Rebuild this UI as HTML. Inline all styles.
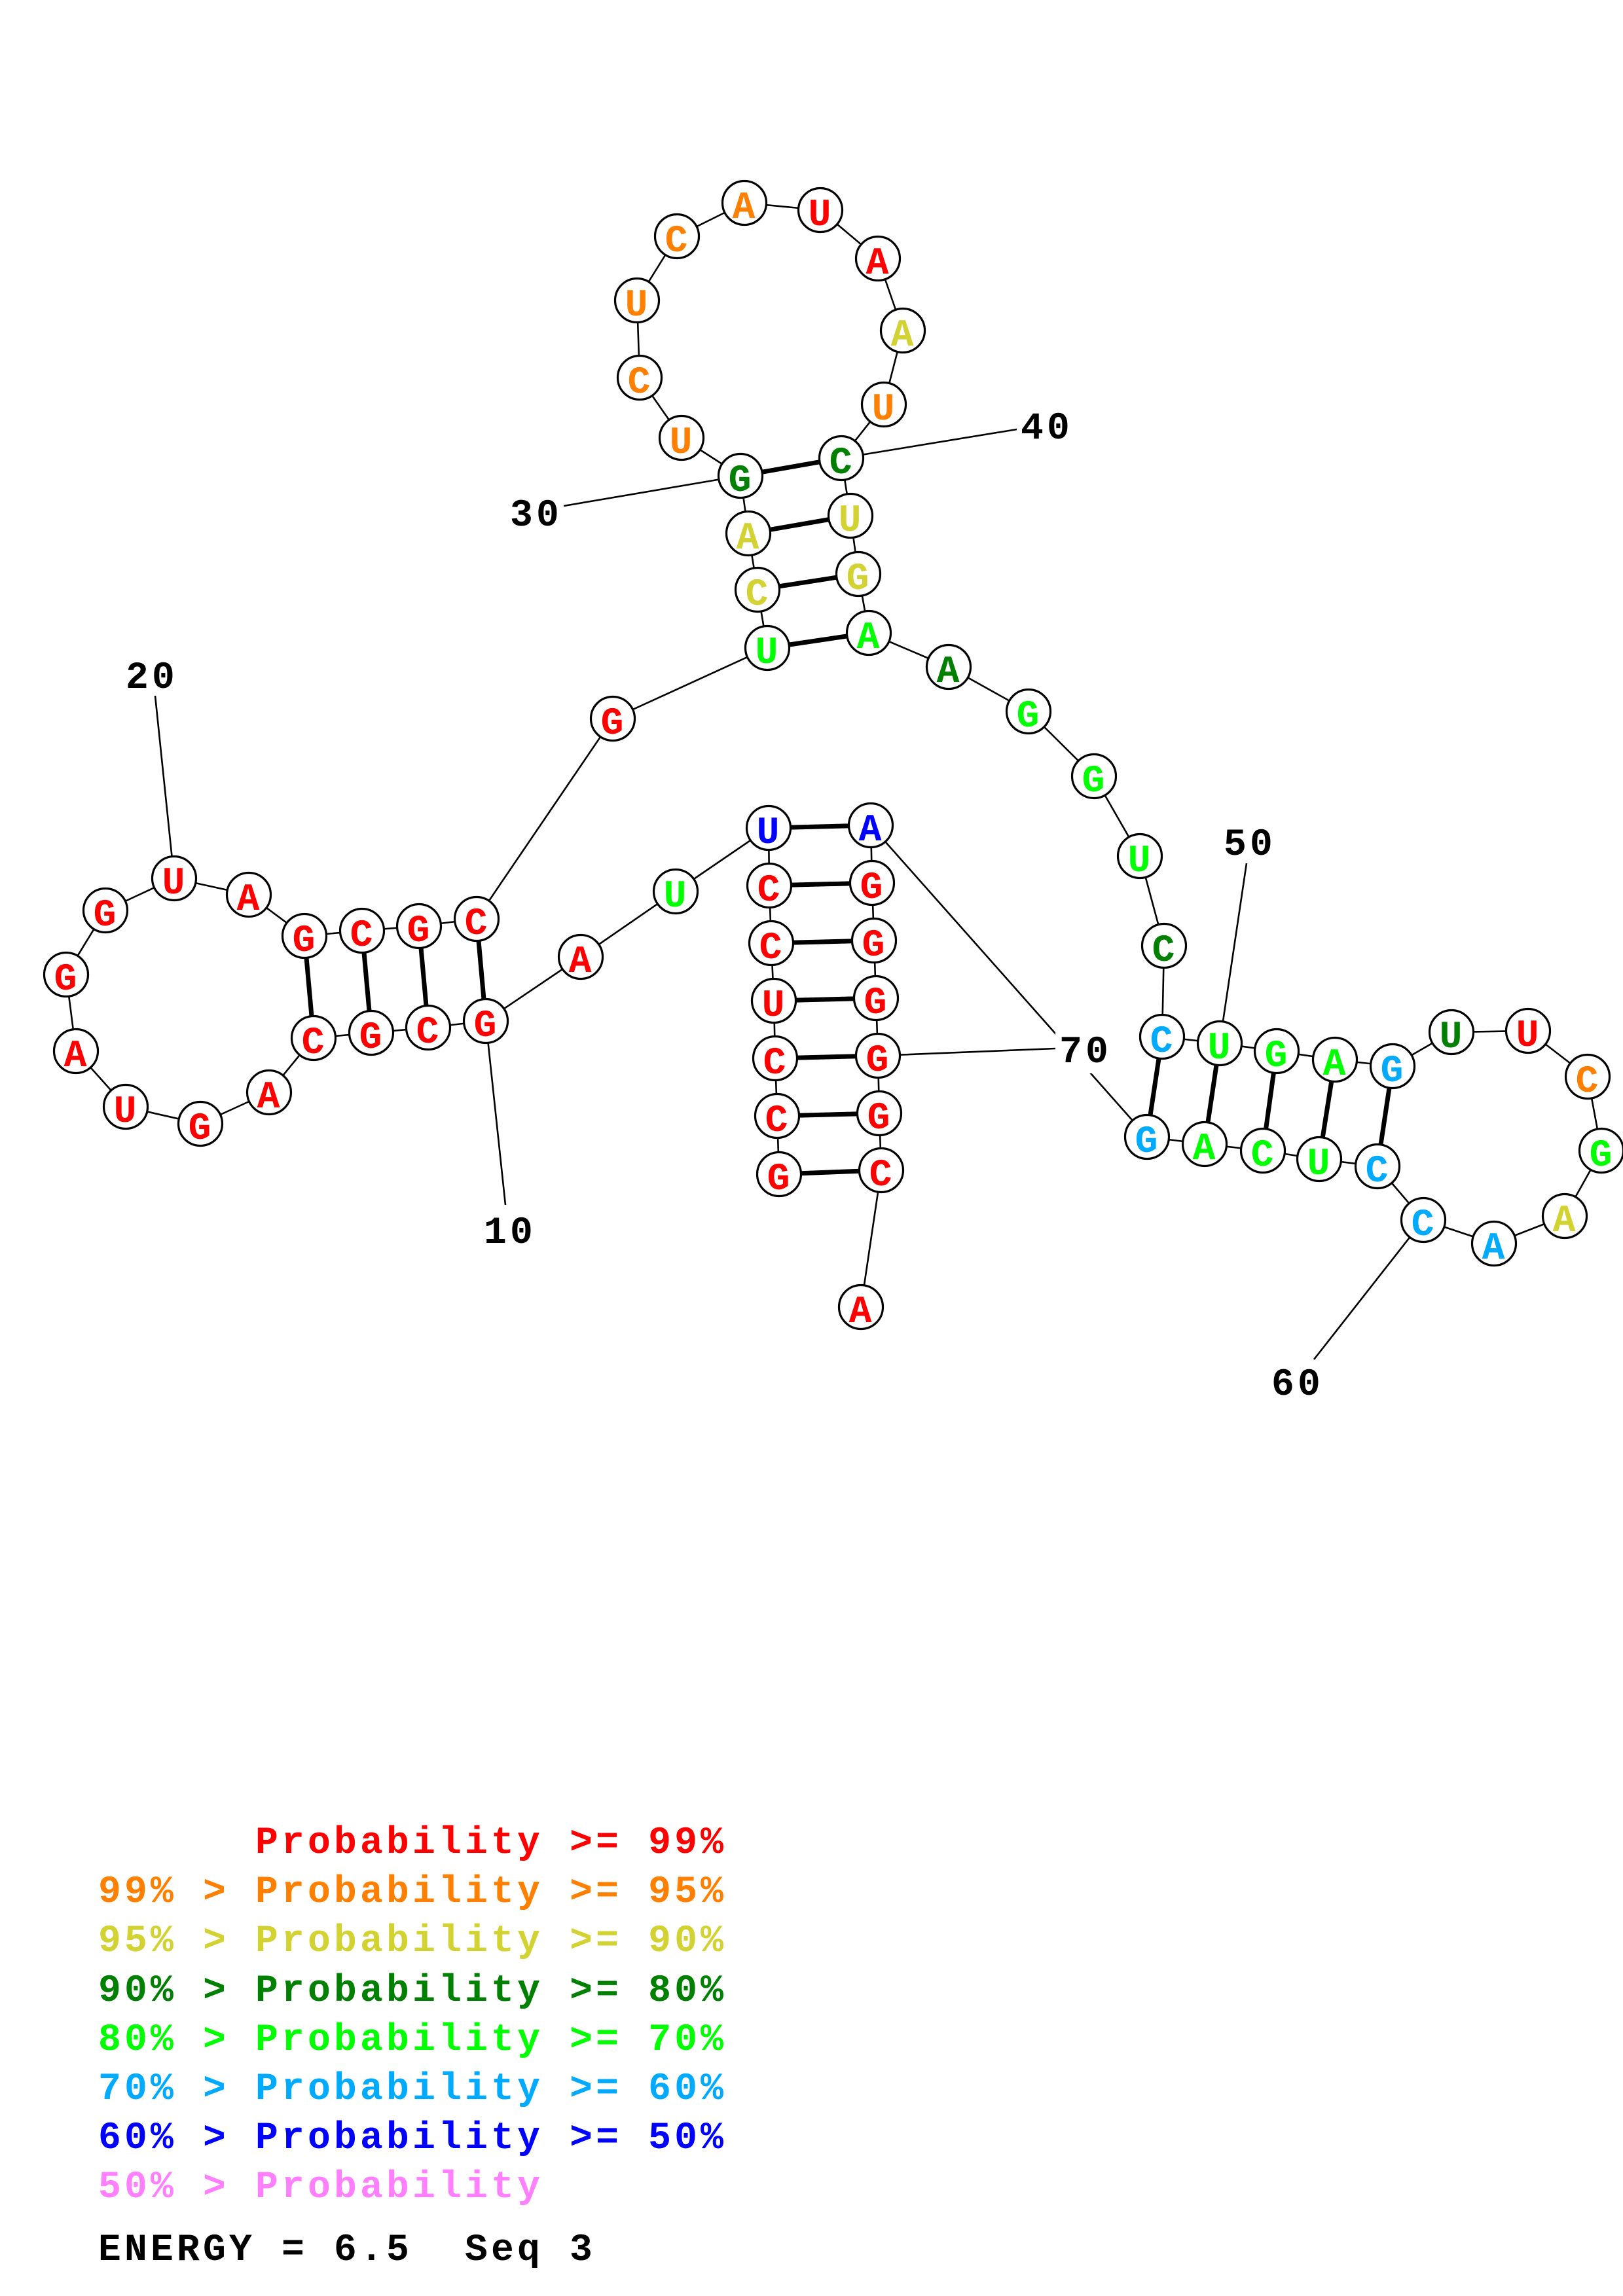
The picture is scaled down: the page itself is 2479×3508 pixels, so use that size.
<!DOCTYPE html>
<html>
<head>
<meta charset="utf-8">
<style>
  html, body { margin:0; padding:0; background:#ffffff; }
  body { width:2479px; height:3508px; overflow:hidden; }
  svg { display:block; }
  .nt { font-family:"Liberation Mono", "DejaVu Sans Mono", monospace; font-weight:bold; font-size:58px; text-anchor:middle; }
  .lbl { font-family:"Liberation Mono", "DejaVu Sans Mono", monospace; font-weight:bold; font-size:58px; letter-spacing:5.2px; text-anchor:middle; fill:#000; }
  .leg { font-family:"Liberation Mono", "DejaVu Sans Mono", monospace; font-weight:bold; font-size:58px; letter-spacing:5.2px; }
</style>
</head>
<body>
<svg width="2479" height="3508" viewBox="0 0 2479 3508" xmlns="http://www.w3.org/2000/svg">
  <rect x="0" y="0" width="2479" height="3508" fill="#ffffff"/>

  <!-- backbone -->
  <polyline fill="none" stroke="#000" stroke-width="2.6" stroke-linejoin="round" points="
    1190,1794 1187,1705 1184,1617 1182,1529 1178,1441 1175,1353 1174,1265 1032,1362 887,1462 742,1560
    654,1570 567,1578 479,1586 411,1669 306,1717 192,1691 116,1606 101,1489 161,1391 266,1342
    380,1367 465,1430 553,1422 640,1415 728,1404 936,1098 1172,990 1157,901 1143,815 1131,727
    1041,669 977,577 973,459 1034,361 1137,310 1253,321 1341,395 1379,505 1350,618 1285,700
    1299,788 1311,877 1327,967 1449,1019 1571,1087 1671,1186 1741,1308 1778,1445 1775,1584 1863,1594
    1950,1606 2039,1619 2127,1629 2217,1577 2334,1575 2425,1645 2446,1758 2390,1858 2282,1900 2174,1864
    2104,1782 2015,1771 1929,1758 1840,1748 1752,1737 1330,1261 1332,1349 1335,1437 1338,1525 1341,1613
    1343,1701 1346,1788 1315,1997"/>

  <!-- base pairs -->
  <g stroke="#000" stroke-width="7" stroke-linecap="butt">
    <line x1="1190" y1="1794" x2="1346" y2="1788"/>
    <line x1="1187" y1="1705" x2="1343" y2="1701"/>
    <line x1="1184" y1="1617" x2="1341" y2="1613"/>
    <line x1="1182" y1="1529" x2="1338" y2="1525"/>
    <line x1="1178" y1="1441" x2="1335" y2="1437"/>
    <line x1="1175" y1="1353" x2="1332" y2="1349"/>
    <line x1="1174" y1="1265" x2="1330" y2="1261"/>

    <line x1="742" y1="1560" x2="728" y2="1404"/>
    <line x1="654" y1="1570" x2="640" y2="1415"/>
    <line x1="567" y1="1578" x2="553" y2="1422"/>
    <line x1="479" y1="1586" x2="465" y2="1430"/>

    <line x1="1172" y1="990" x2="1327" y2="967"/>
    <line x1="1157" y1="901" x2="1311" y2="877"/>
    <line x1="1143" y1="815" x2="1299" y2="788"/>
    <line x1="1131" y1="727" x2="1285" y2="700"/>

    <line x1="1775" y1="1584" x2="1752" y2="1737"/>
    <line x1="1863" y1="1594" x2="1840" y2="1748"/>
    <line x1="1950" y1="1606" x2="1929" y2="1758"/>
    <line x1="2039" y1="1619" x2="2015" y2="1771"/>
    <line x1="2127" y1="1629" x2="2104" y2="1782"/>
  </g>

  <!-- label background for 70 (interrupts the long backbone line) -->
  <rect x="1612" y="1572" width="90" height="68" fill="#ffffff"/>

  <!-- label lines -->
  <g stroke="#000" stroke-width="2.6">
    <line x1="742" y1="1560" x2="772" y2="1841"/>
    <line x1="266" y1="1342" x2="237" y2="1063"/>
    <line x1="1131" y1="727" x2="861" y2="773"/>
    <line x1="1285" y1="700" x2="1553" y2="656"/>
    <line x1="1863" y1="1594" x2="1904" y2="1319"/>
    <line x1="2174" y1="1864" x2="2007" y2="2077"/>
    <line x1="1341" y1="1613" x2="1612" y2="1602"/>
  </g>

  <!-- labels -->
  <text class="lbl" x="779" y="1899">10</text>
  <text class="lbl" x="232" y="1051">20</text>
  <text class="lbl" x="819" y="803">30</text>
  <text class="lbl" x="1599" y="670">40</text>
  <text class="lbl" x="1909" y="1306">50</text>
  <text class="lbl" x="1982" y="2131">60</text>
  <text class="lbl" x="1658" y="1623">70</text>

  <!-- nucleotide circles -->
  <g fill="#ffffff" stroke="#000" stroke-width="3.2">
    <circle cx="1190" cy="1794" r="33.5"/>
    <circle cx="1187" cy="1705" r="33.5"/>
    <circle cx="1184" cy="1617" r="33.5"/>
    <circle cx="1182" cy="1529" r="33.5"/>
    <circle cx="1178" cy="1441" r="33.5"/>
    <circle cx="1175" cy="1353" r="33.5"/>
    <circle cx="1174" cy="1265" r="33.5"/>
    <circle cx="1032" cy="1362" r="33.5"/>
    <circle cx="887" cy="1462" r="33.5"/>
    <circle cx="742" cy="1560" r="33.5"/>
    <circle cx="654" cy="1570" r="33.5"/>
    <circle cx="567" cy="1578" r="33.5"/>
    <circle cx="479" cy="1586" r="33.5"/>
    <circle cx="411" cy="1669" r="33.5"/>
    <circle cx="306" cy="1717" r="33.5"/>
    <circle cx="192" cy="1691" r="33.5"/>
    <circle cx="116" cy="1606" r="33.5"/>
    <circle cx="101" cy="1489" r="33.5"/>
    <circle cx="161" cy="1391" r="33.5"/>
    <circle cx="266" cy="1342" r="33.5"/>
    <circle cx="380" cy="1367" r="33.5"/>
    <circle cx="465" cy="1430" r="33.5"/>
    <circle cx="553" cy="1422" r="33.5"/>
    <circle cx="640" cy="1415" r="33.5"/>
    <circle cx="728" cy="1404" r="33.5"/>
    <circle cx="936" cy="1098" r="33.5"/>
    <circle cx="1172" cy="990" r="33.5"/>
    <circle cx="1157" cy="901" r="33.5"/>
    <circle cx="1143" cy="815" r="33.5"/>
    <circle cx="1131" cy="727" r="33.5"/>
    <circle cx="1041" cy="669" r="33.5"/>
    <circle cx="977" cy="577" r="33.5"/>
    <circle cx="973" cy="459" r="33.5"/>
    <circle cx="1034" cy="361" r="33.5"/>
    <circle cx="1137" cy="310" r="33.5"/>
    <circle cx="1253" cy="321" r="33.5"/>
    <circle cx="1341" cy="395" r="33.5"/>
    <circle cx="1379" cy="505" r="33.5"/>
    <circle cx="1350" cy="618" r="33.5"/>
    <circle cx="1285" cy="700" r="33.5"/>
    <circle cx="1299" cy="788" r="33.5"/>
    <circle cx="1311" cy="877" r="33.5"/>
    <circle cx="1327" cy="967" r="33.5"/>
    <circle cx="1449" cy="1019" r="33.5"/>
    <circle cx="1571" cy="1087" r="33.5"/>
    <circle cx="1671" cy="1186" r="33.5"/>
    <circle cx="1741" cy="1308" r="33.5"/>
    <circle cx="1778" cy="1445" r="33.5"/>
    <circle cx="1775" cy="1584" r="33.5"/>
    <circle cx="1863" cy="1594" r="33.5"/>
    <circle cx="1950" cy="1606" r="33.5"/>
    <circle cx="2039" cy="1619" r="33.5"/>
    <circle cx="2127" cy="1629" r="33.5"/>
    <circle cx="2217" cy="1577" r="33.5"/>
    <circle cx="2334" cy="1575" r="33.5"/>
    <circle cx="2425" cy="1645" r="33.5"/>
    <circle cx="2446" cy="1758" r="33.5"/>
    <circle cx="2390" cy="1858" r="33.5"/>
    <circle cx="2282" cy="1900" r="33.5"/>
    <circle cx="2174" cy="1864" r="33.5"/>
    <circle cx="2104" cy="1782" r="33.5"/>
    <circle cx="2015" cy="1771" r="33.5"/>
    <circle cx="1929" cy="1758" r="33.5"/>
    <circle cx="1840" cy="1748" r="33.5"/>
    <circle cx="1752" cy="1737" r="33.5"/>
    <circle cx="1330" cy="1261" r="33.5"/>
    <circle cx="1332" cy="1349" r="33.5"/>
    <circle cx="1335" cy="1437" r="33.5"/>
    <circle cx="1338" cy="1525" r="33.5"/>
    <circle cx="1341" cy="1613" r="33.5"/>
    <circle cx="1343" cy="1701" r="33.5"/>
    <circle cx="1346" cy="1788" r="33.5"/>
    <circle cx="1315" cy="1997" r="33.5"/>
  </g>

  <!-- nucleotide letters -->
  <g class="nt">
    <text x="1189" y="1817" fill="#ff0000">G</text>
    <text x="1186" y="1728" fill="#ff0000">C</text>
    <text x="1183" y="1640" fill="#ff0000">C</text>
    <text x="1181" y="1552" fill="#ff0000">U</text>
    <text x="1177" y="1464" fill="#ff0000">C</text>
    <text x="1174" y="1376" fill="#ff0000">C</text>
    <text x="1173" y="1288" fill="#0000ff">U</text>
    <text x="1031" y="1385" fill="#00ff00">U</text>
    <text x="886" y="1485" fill="#ff0000">A</text>
    <text x="741" y="1583" fill="#ff0000">G</text>
    <text x="653" y="1593" fill="#ff0000">C</text>
    <text x="566" y="1601" fill="#ff0000">G</text>
    <text x="478" y="1609" fill="#ff0000">C</text>
    <text x="410" y="1692" fill="#ff0000">A</text>
    <text x="305" y="1740" fill="#ff0000">G</text>
    <text x="191" y="1714" fill="#ff0000">U</text>
    <text x="115" y="1629" fill="#ff0000">A</text>
    <text x="100" y="1512" fill="#ff0000">G</text>
    <text x="160" y="1414" fill="#ff0000">G</text>
    <text x="265" y="1365" fill="#ff0000">U</text>
    <text x="379" y="1390" fill="#ff0000">A</text>
    <text x="464" y="1453" fill="#ff0000">G</text>
    <text x="552" y="1445" fill="#ff0000">C</text>
    <text x="639" y="1438" fill="#ff0000">G</text>
    <text x="727" y="1427" fill="#ff0000">C</text>
    <text x="935" y="1121" fill="#ff0000">G</text>
    <text x="1171" y="1013" fill="#00ff00">U</text>
    <text x="1156" y="924" fill="#d2d232">C</text>
    <text x="1142" y="838" fill="#d2d232">A</text>
    <text x="1130" y="750" fill="#008000">G</text>
    <text x="1040" y="692" fill="#ff8000">U</text>
    <text x="976" y="600" fill="#ff8000">C</text>
    <text x="972" y="482" fill="#ff8000">U</text>
    <text x="1033" y="384" fill="#ff8000">C</text>
    <text x="1136" y="333" fill="#ff8000">A</text>
    <text x="1252" y="344" fill="#ff0000">U</text>
    <text x="1340" y="418" fill="#ff0000">A</text>
    <text x="1378" y="528" fill="#d2d232">A</text>
    <text x="1349" y="641" fill="#ff8000">U</text>
    <text x="1284" y="723" fill="#008000">C</text>
    <text x="1298" y="811" fill="#d2d232">U</text>
    <text x="1310" y="900" fill="#d2d232">G</text>
    <text x="1326" y="990" fill="#00ff00">A</text>
    <text x="1448" y="1042" fill="#008000">A</text>
    <text x="1570" y="1110" fill="#00ff00">G</text>
    <text x="1670" y="1209" fill="#00ff00">G</text>
    <text x="1740" y="1331" fill="#00ff00">U</text>
    <text x="1777" y="1468" fill="#008000">C</text>
    <text x="1774" y="1607" fill="#00aaff">C</text>
    <text x="1862" y="1617" fill="#00ff00">U</text>
    <text x="1949" y="1629" fill="#00ff00">G</text>
    <text x="2038" y="1642" fill="#00ff00">A</text>
    <text x="2126" y="1652" fill="#00aaff">G</text>
    <text x="2216" y="1600" fill="#008000">U</text>
    <text x="2333" y="1598" fill="#ff0000">U</text>
    <text x="2424" y="1668" fill="#ff8000">C</text>
    <text x="2445" y="1781" fill="#00ff00">G</text>
    <text x="2389" y="1881" fill="#d2d232">A</text>
    <text x="2281" y="1923" fill="#00aaff">A</text>
    <text x="2173" y="1887" fill="#00aaff">C</text>
    <text x="2103" y="1805" fill="#00aaff">C</text>
    <text x="2014" y="1794" fill="#00ff00">U</text>
    <text x="1928" y="1781" fill="#00ff00">C</text>
    <text x="1839" y="1771" fill="#00ff00">A</text>
    <text x="1751" y="1760" fill="#00aaff">G</text>
    <text x="1329" y="1284" fill="#0000ff">A</text>
    <text x="1331" y="1372" fill="#ff0000">G</text>
    <text x="1334" y="1460" fill="#ff0000">G</text>
    <text x="1337" y="1548" fill="#ff0000">G</text>
    <text x="1340" y="1636" fill="#ff0000">G</text>
    <text x="1342" y="1724" fill="#ff0000">G</text>
    <text x="1345" y="1811" fill="#ff0000">C</text>
    <text x="1314" y="2020" fill="#ff0000">A</text>
  </g>

  <!-- legend -->
  <g class="leg">
    <text x="390" y="2831" fill="#ff0000">Probability &gt;= 99%</text>
    <text x="150" y="2906" fill="#ff8000">99% &gt; Probability &gt;= 95%</text>
    <text x="150" y="2981" fill="#d2d232">95% &gt; Probability &gt;= 90%</text>
    <text x="150" y="3057" fill="#008000">90% &gt; Probability &gt;= 80%</text>
    <text x="150" y="3132" fill="#00ff00">80% &gt; Probability &gt;= 70%</text>
    <text x="150" y="3207" fill="#00aaff">70% &gt; Probability &gt;= 60%</text>
    <text x="150" y="3282" fill="#0000ff">60% &gt; Probability &gt;= 50%</text>
    <text x="150" y="3357" fill="#ff80ff">50% &gt; Probability</text>
    <text x="150" y="3453" fill="#000000">ENERGY = 6.5</text>
    <text x="710" y="3453" fill="#000000">Seq 3</text>
  </g>
</svg>
</body>
</html>
